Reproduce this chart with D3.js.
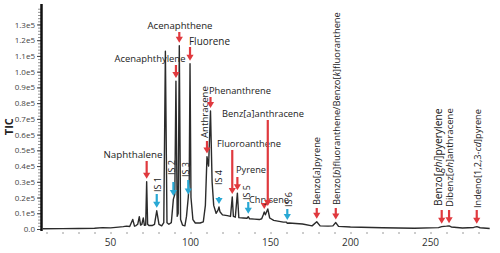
<!DOCTYPE html>
<html>
<head>
<meta charset="utf-8">
<script src="https://cdn.jsdelivr.net/npm/d3@7"></script>
<style>
  body { margin: 0; background: #fff; }
  svg { display: block; font-family: "Open Sans", sans-serif; }
</style>
</head>
<body>
<div id="chart"></div>
<script>
// retention time and TIC counts
const traceTime = [7.5, 20, 30, 40, 45, 50, 55, 58, 60, 62, 63.9, 65, 66, 67, 68, 68.8, 69.6, 70.5, 71.2, 72, 72.6, 73.2, 74, 76, 77.5, 78.9, 80.3, 82, 83.3, 84.3, 85.3, 86.5, 88, 89.3, 90.2, 90.9, 91.7, 92.3, 93, 93.8, 95, 96.5, 97.5, 98.6, 99.2, 99.7, 100.3, 101.5, 103, 106, 108, 109.3, 110.3, 111.3, 112.5, 113.5, 114.5, 116, 117.2, 117.8, 118.4, 120, 123, 125, 126.1, 126.8, 128, 129.3, 130.2, 133, 135.3, 136.1, 136.9, 140, 143, 144.5, 145.5, 146.1, 146.8, 148.3, 149.5, 152, 158, 160, 160.5, 161.5, 170, 176, 178.9, 181, 186, 189, 190.8, 192.5, 200, 220, 240, 255, 257, 260, 261.6, 263, 270, 277, 279, 281, 287];
const traceTic = [200, 250, 300, 500, 900, 700, 1200, 1500, 1800, 1600, 6100, 1800, 2200, 3000, 7800, 2500, 3000, 7000, 2300, 2500, 30000, 3000, 2200, 2200, 3000, 11600, 3000, 2000, 4000, 113000, 4000, 3000, 4000, 19000, 22000, 94000, 8000, 10000, 116500, 6000, 2500, 2000, 8000, 20000, 30000, 105000, 20000, 6000, 3800, 3800, 4500, 15000, 46000, 40000, 75000, 30000, 15000, 10000, 12000, 14000, 11000, 9000, 8500, 8000, 20400, 8000, 7500, 22800, 7200, 7000, 6800, 7800, 6500, 6300, 6000, 6500, 9000, 10800, 9000, 12700, 7000, 5500, 4400, 4400, 3600, 3800, 3200, 2000, 4600, 2000, 1800, 2000, 4100, 1700, 1300, 800, 500, 900, 1500, 1800, 2000, 1300, 600, 1000, 1500, 800, 300];

// labelled peaks: name, retention time, peak height, kind (analyte / internal standard)
const peakNames = ["Naphthalene", "IS 1", "Acenaphthylene", "IS 2", "Acenaphthene", "IS 3", "Fluorene", "Anthracene", "Phenanthrene", "IS 4", "Fluoroanthene", "Pyrene", "IS 5", "Chrysene", "Benz[a]anthracene", "IS 6", "Benzo[a]pyrene", "Benzo[b]fluoranthene/Benzo[k]fluoranthene", "Benzo[ghi]pyerylene", "Dibenz[ah]anthracene", "Indeno[1,2,3-cd]pyrene"];
const peakTime = [72.6, 78.9, 90.9, 89.3, 93, 98.6, 99.7, 110.3, 112.5, 117.8, 126.1, 129.3, 136.1, 146.1, 148.3, 160.5, 178.9, 190.8, 257, 261.6, 278.9];
const peakTic = [30000, 11600, 94000, 19000, 116500, 20000, 105000, 46000, 75000, 14000, 20400, 22800, 7800, 10800, 12700, 3800, 4600, 4100, 1500, 1800, 1500];
const peakKind = ["a", "is", "a", "is", "a", "is", "a", "a", "a", "is", "a", "a", "is", "a", "a", "is", "a", "a", "a", "a", "a"];

const yTicks = d3.range(0, 130001, 10000);
const xTicks = d3.range(10, 281, 10);
const xLabels = [50, 100, 150, 200, 250];

// label layout in pixels: [text x, text y, rotated?, anchor, arrow top y, text length]
const layout = {
  "Naphthalene": [133, 158, false, "middle", 161, 59],
  "IS 1": [160.5, 192, true, "start", 194, 15],
  "Acenaphthylene": [150, 62, false, "middle", 65, 71],
  "IS 2": [174.5, 175, true, "start", 182, 14],
  "Acenaphthene": [180, 29, false, "middle", 32, 65],
  "IS 3": [188.5, 177, true, "start", 180, 14],
  "Fluorene": [189, 45, false, "start", 47, 41],
  "Anthracene": [207.5, 138, true, "start", 141, 52],
  "Phenanthrene": [209, 94, false, "start", 97, 62],
  "IS 4": [221.5, 185, true, "start", 197, 14],
  "Fluoroanthene": [217, 147, false, "start", 150, 64],
  "Pyrene": [236, 173, false, "start", 177, 30],
  "IS 5": [249.5, 200, true, "start", 202, 14],
  "Chrysene": [249, 203, false, "start", 205, 40],
  "Benz[a]anthracene": [222, 117, false, "start", 120, 82],
  "IS 6": [291.5, 207, true, "start", 209, 14],
  "Benzo[a]pyrene": [320, 205, true, "start", 208, 68],
  "Benzo[b]fluoranthene/Benzo[k]fluoranthene": [339.5, 205, true, "start", 208, 193],
  "Benzo[ghi]pyerylene": [441.5, 206, true, "start", 210, 98],
  "Dibenz[ah]anthracene": [452.5, 207, true, "start", 210, 99],
  "Indeno[1,2,3-cd]pyrene": [481, 208, true, "start", 210, 99]
};
const italicParts = ["b", "k", "ghi", "ah", "cd"];

const width = 500, height = 253;
const red = "#e0393e", blue = "#29a8d4";

const svg = d3.select("#chart").append("svg")
  .attr("width", width)
  .attr("height", height);

const x = d3.scaleLinear().domain([0, 290]).range([30.5, 494.5]);
const y = d3.scaleLinear().domain([0, 143000]).range([229, 4]);

// x ticks (small grey marks, no axis line)
const xAxis = svg.append("g")
  .attr("transform", "translate(0,232)")
  .call(d3.axisBottom(x).tickValues(xTicks).tickSize(2).tickFormat(""));
xAxis.select(".domain").remove();
xAxis.selectAll("line").attr("stroke", "#9a9a9a");

svg.append("g").selectAll("text")
  .data(xLabels)
  .enter()
  .append("text")
    .attr("x", d => x(d))
    .attr("y", 246)
    .attr("text-anchor", "middle")
    .style("font-size", "10px")
    .attr("fill", "#333")
    .text(d => d);

// y axis with dense minor ticks
const minor = svg.append("g")
  .attr("transform", "translate(41,0)")
  .call(d3.axisLeft(y).tickValues(d3.range(0, 140001, 2000)).tickSize(3).tickFormat(""));
minor.select(".domain").remove();
minor.selectAll("line").attr("stroke", "#666").attr("stroke-width", 0.7);

const yAxis = svg.append("g")
  .attr("transform", "translate(41,0)")
  .call(d3.axisLeft(y).tickValues(yTicks).tickSize(4).tickPadding(2)
    .tickFormat(d => d === 0 ? "0.0" : (d / 1e5).toFixed(1) + "e5"));
yAxis.select(".domain").remove();
yAxis.selectAll("line").attr("stroke", "#444");
yAxis.selectAll("text")
  .style("font-size", "8px")
  .style("font-family", "Open Sans, sans-serif")
  .attr("fill", "#444");

svg.append("line")
  .attr("x1", 41.5).attr("x2", 41.5)
  .attr("y1", 4).attr("y2", 231)
  .attr("stroke", "#111")
  .attr("stroke-width", 2.5);

svg.append("text")
  .attr("transform", "translate(13," + y(65000) + ") rotate(-90)")
  .attr("text-anchor", "middle")
  .style("font-size", "11px")
  .style("font-weight", "bold")
  .attr("fill", "#222")
  .text("TIC");

// chromatogram
const line = d3.line()
  .x((d, i) => x(traceTime[i]))
  .y(d => y(d));

svg.append("path")
  .datum(traceTic)
  .attr("d", line)
  .attr("fill", "none")
  .attr("stroke", "#2b2b2b")
  .attr("stroke-width", 1.4)
  .attr("stroke-linejoin", "round");

// annotations
const ann = svg.append("g");
peakNames.forEach((name, i) => {
  const L = layout[name];
  const col = peakKind[i] === "is" ? blue : red;
  const ax = x(peakTime[i]);
  const tip = y(peakTic[i]) - 3;
  ann.append("line")
    .attr("x1", ax).attr("x2", ax)
    .attr("y1", L[4]).attr("y2", tip - 5)
    .attr("stroke", col)
    .attr("stroke-width", 2.2);
  ann.append("path")
    .attr("d", `M${ax - 3.6},${tip - 6} L${ax + 3.6},${tip - 6} L${ax},${tip} Z`)
    .attr("fill", col);

  const t = ann.append("text")
    .attr("text-anchor", L[3])
    .style("font-size", "10px")
    .attr("fill", "#222");
  if (L[2]) t.attr("transform", `translate(${L[0]},${L[1]}) rotate(-90)`);
  else t.attr("x", L[0]).attr("y", L[1]);

  // split brackets so the locant letters can be set in italics
  name.split(/(\[[^\]]*\])/).forEach(part => {
    const m = part.match(/^\[([^\]]*)\]$/);
    if (m && italicParts.some(p => m[1] === p || m[1].endsWith("-" + p))) {
      const inner = m[1];
      const k = inner.lastIndexOf("-");
      t.append("tspan").text("[" + (k >= 0 ? inner.slice(0, k + 1) : ""));
      t.append("tspan").style("font-style", "italic").text(k >= 0 ? inner.slice(k + 1) : inner);
      t.append("tspan").text("]");
    } else {
      t.append("tspan").text(part);
    }
  });

  // fit font size to the label length seen in the picture
  const w = t.node().getComputedTextLength();
  if (w > 0) t.style("font-size", Math.max(9, Math.min(10.3, 10 * L[5] / w)).toFixed(2) + "px");
});
</script>
</body>
</html>
